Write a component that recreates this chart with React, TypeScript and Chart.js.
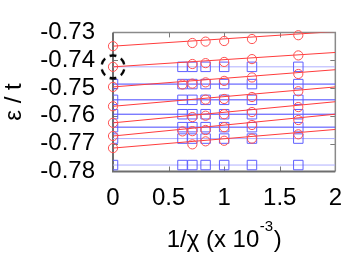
import React, { useEffect, useRef } from "react";
import { Chart, registerables } from "chart.js";

Chart.register(...registerables);

// 1/chi values (x 10^-3)
const invChi: number[] = [0, 0.625, 0.714, 0.833, 1.0, 1.25, 1.667];
const xTickValues: number[] = [0, 0.5, 1, 1.5, 2];
const yMin = -0.78;
const yMax = -0.73;

// energies per level (null = no point)
const energyRow1 = [-0.73495, null, -0.73381, -0.73331, -0.7331, -0.73238, -0.73102];
const energyRow2 = [-0.74238, null, -0.74136, -0.74105, -0.74062, -0.7396, -0.73827];
const energyRow3 = [-0.7496, -0.74873, -0.74842, -0.74796, -0.74743, -0.74619, -0.74495];
const energyRow4 = [-0.75656, null, null, -0.75415, -0.75393, -0.75322, -0.75115];
const energyRow5 = [-0.76251, null, -0.76043, -0.75994, -0.75941, -0.75864, -0.75684];
const energyRow6 = [-0.76725, -0.7656, -0.76551, -0.76508, -0.76406, -0.76328, -0.76149];
const energyRow7 = [-0.77158, null, -0.77025, -0.76916, -0.76895, -0.76817, -0.76663];
const energyRows = [energyRow1, energyRow2, energyRow3, energyRow4, energyRow5, energyRow6, energyRow7];

// linear extrapolation lines: value at 1/chi = 0 and at 1/chi = 2
const fitAtZero = [-0.73495, -0.74238, -0.7496, -0.75656, -0.76251, -0.76725, -0.77158];
const fitAtTwo = [-0.72969, -0.73721, -0.74341, -0.7496, -0.75492, -0.75941, -0.76489];

// reference (blue) levels
const refLevels = [-0.74238, -0.74858, -0.75424, -0.75941, -0.76406, -0.76817, -0.77768];
const refLevelFaint = [true, false, false, false, false, true, true];
const refLevelX = [
  [0.625, 0.714, 0.833, 1.0, 1.25, 1.667],
  [0, 0.625, 0.714, 0.833, 1.0, 1.25, 1.667],
  [0, 0.625, 0.714, 0.833, 1.0, 1.25, 1.667],
  [0, 0.625, 0.714, 0.833, 1.0, 1.25, 1.667],
  [0, 0.625, 0.714, 0.833, 1.0, 1.25, 1.667],
  [0, 0.625, 0.714, 0.833, 1.0, 1.25, 1.667],
  [0, 0.625, 0.714, 0.833, 1.0, 1.25, 1.667],
];

// highlighted point (dashed circle)
const highlightX = 0;
const highlightY = -0.74238;

const FONT = "'Liberation Sans', Arial, Helvetica, sans-serif";

function makeDashedCircle(): HTMLCanvasElement {
  const c = document.createElement("canvas");
  c.width = 30;
  c.height = 30;
  const g = c.getContext("2d")!;
  g.strokeStyle = "#000";
  g.lineWidth = 2.4;
  const r = 11.5;
  const half = (17 * Math.PI) / 180;
  for (let k = 0; k < 6; k++) {
    const a = (k * 60 * Math.PI) / 180 + Math.PI / 6;
    g.beginPath();
    g.arc(15, 15, r, a - half, a + half);
    g.stroke();
  }
  return c;
}

const framePlugin = {
  id: "frame",
  beforeDatasetsDraw(chart: any) {
    const { ctx, chartArea: a, scales } = chart;
    ctx.save();
    ctx.strokeStyle = "#7a7a7a";
    ctx.lineWidth = 1;
    const tl = 5;
    for (const v of xTickValues) {
      const px = Math.round(scales.x.getPixelForValue(v)) + 0.5;
      if (px <= a.left + 1 || px >= a.right - 1) continue;
      ctx.beginPath();
      ctx.moveTo(px, a.bottom);
      ctx.lineTo(px, a.bottom - tl);
      ctx.moveTo(px, a.top);
      ctx.lineTo(px, a.top + tl);
      ctx.stroke();
    }
    for (const t of scales.y.ticks) {
      const py = Math.round(scales.y.getPixelForValue(t.value)) + 0.5;
      if (py <= a.top + 1 || py >= a.bottom - 1) continue;
      ctx.beginPath();
      ctx.moveTo(a.left, py);
      ctx.lineTo(a.left + tl, py);
      ctx.moveTo(a.right, py);
      ctx.lineTo(a.right - tl, py);
      ctx.stroke();
    }
    // frame
    ctx.strokeStyle = "#8a8a8a";
    ctx.lineWidth = 1.5;
    ctx.beginPath();
    ctx.moveTo(a.left, a.top);
    ctx.lineTo(a.right, a.top);
    ctx.lineTo(a.right, a.bottom);
    ctx.stroke();
    ctx.strokeStyle = "#6e6e6e";
    ctx.lineWidth = 2;
    ctx.beginPath();
    ctx.moveTo(a.left, a.top);
    ctx.lineTo(a.left, a.bottom);
    ctx.lineTo(a.right, a.bottom);
    ctx.stroke();
    ctx.restore();
  },
  afterDraw(chart: any) {
    const { ctx, chartArea: a } = chart;
    ctx.save();
    ctx.fillStyle = "#000";
    ctx.textBaseline = "alphabetic";
    const big = `24px ${FONT}`;
    const small = `15px ${FONT}`;
    const p1 = "1/\u03C7 (x 10";
    const p2 = "-3";
    const p3 = ")";
    ctx.font = big;
    const w1 = ctx.measureText(p1).width;
    const w3 = ctx.measureText(p3).width;
    ctx.font = small;
    const w2 = ctx.measureText(p2).width;
    const total = w1 + w2 + w3 + 1;
    const cx = (a.left + a.right) / 2;
    let x = cx - total / 2;
    const base = 246.5;
    ctx.font = big;
    ctx.fillText(p1, x, base);
    x += w1 + 0.5;
    ctx.font = small;
    ctx.fillText(p2, x, base - 16);
    x += w2 + 0.5;
    ctx.font = big;
    ctx.fillText(p3, x, base);
    ctx.restore();
  },
};

export default function App() {
  const ref = useRef<HTMLCanvasElement | null>(null);
  useEffect(() => {
    document.body.style.margin = "0";
    const canvas = ref.current!;
    const datasets: any[] = [];

    // blue reference lines
    refLevels.forEach((lv, i) => {
      datasets.push({
        type: "line",
        data: [
          { x: 0, y: lv },
          { x: 2, y: lv },
        ],
        borderColor: refLevelFaint[i] ? "rgba(175,175,255,1)" : "rgba(70,70,255,1)",
        borderWidth: 1,
        pointRadius: 0,
        fill: false,
        clip: 0,
        order: 5,
      });
    });
    // blue squares
    refLevels.forEach((lv, i) => {
      datasets.push({
        type: "scatter",
        data: refLevelX[i].map((x) => ({ x, y: lv })),
        pointStyle: "rect",
        pointRadius: 6.7,
        borderColor: "rgba(95,95,255,1)",
        backgroundColor: "rgba(0,0,0,0)",
        borderWidth: 1,
        clip: 0,
        order: 4,
      });
    });
    // red fit lines
    fitAtZero.forEach((y0, i) => {
      datasets.push({
        type: "line",
        data: [
          { x: 0, y: y0 },
          { x: 2, y: fitAtTwo[i] },
        ],
        borderColor: "rgba(255,60,60,1)",
        borderWidth: 1,
        pointRadius: 0,
        fill: false,
        clip: 0,
        order: 3,
      });
    });
    // red circles
    energyRows.forEach((row) => {
      const pts: any[] = [];
      row.forEach((v, j) => {
        if (v !== null) pts.push({ x: invChi[j], y: v });
      });
      datasets.push({
        type: "scatter",
        data: pts,
        pointStyle: "circle",
        pointRadius: 4.6,
        borderColor: "rgba(255,80,80,1)",
        backgroundColor: "rgba(0,0,0,0)",
        borderWidth: 1,
        clip: false,
        order: 2,
      });
    });
    // dashed highlight circle
    datasets.push({
      type: "scatter",
      data: [{ x: highlightX, y: highlightY }],
      pointStyle: makeDashedCircle(),
      pointRadius: 12,
      clip: false,
      order: 1,
    });

    const chart = new Chart(canvas, {
      type: "scatter",
      data: { datasets },
      options: {
        animation: false,
        responsive: false,
        devicePixelRatio: 1,
        events: [],
        layout: { padding: { left: 0, right: 6, top: 10, bottom: 0 } },
        plugins: { legend: { display: false }, tooltip: { enabled: false } },
        scales: {
          x: {
            type: "linear",
            min: 0,
            max: 2,
            afterFit: (s: any) => {
              s.height = 81.5;
            },
            afterBuildTicks: (s: any) => {
              s.ticks = xTickValues.map((v) => ({ value: v }));
            },
            grid: { display: false, drawTicks: false },
            border: { display: false },
            ticks: {
              color: "#000",
              font: { family: FONT, size: 24 },
              padding: 12,
              maxRotation: 0,
              autoSkip: false,
              callback: (v: any) => String(Number(v)),
            },
          },
          y: {
            type: "linear",
            min: yMin,
            max: yMax,
            afterFit: (s: any) => {
              s.width = 113;
            },
            grid: { display: false, drawTicks: false },
            border: { display: false },
            ticks: {
              color: "#000",
              stepSize: 0.01,
              font: { family: FONT, size: 24 },
              padding: 18,
              autoSkip: false,
              callback: (v: any) => Number(v).toFixed(2),
            },
            title: {
              display: true,
              text: "\u03B5 / t",
              color: "#000",
              font: { family: FONT, size: 24 },
              padding: { top: 0, bottom: 0 },
            },
          },
        },
      },
      plugins: [framePlugin],
    } as any);
    return () => chart.destroy();
  }, []);

  return (
    <div style={{ width: 354, height: 253 }}>
      <canvas ref={ref} width={354} height={253} style={{ display: "block" }} />
    </div>
  );
}
